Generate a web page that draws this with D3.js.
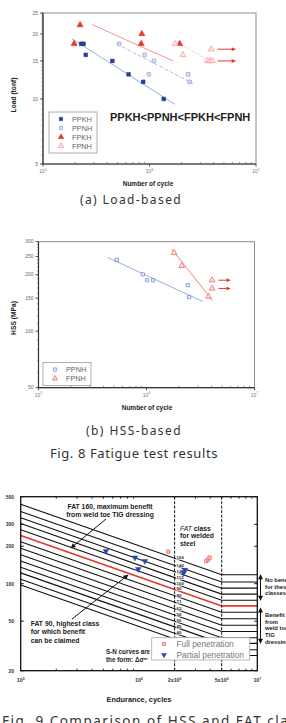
<!DOCTYPE html>
<html>
<head>
<meta charset="utf-8">
<script src="https://cdn.jsdelivr.net/npm/d3@7"></script>
<style>
body { margin: 0; background: #fff; }
svg { display: block; }
text { font-family: "Liberation Sans", Arial, sans-serif; }
.cap { font-family: "Noto Sans", sans-serif; fill: #333; }
</style>
</head>
<body>
<svg id="fig" width="286" height="723"></svg>
<script>
// ---------- Fig 8 (a) load-based : [cycles, load tonf]
const ppkh = [[2.28e5, 18], [2.4e5, 18], [2.52e5, 16], [4.48e5, 15], [6.36e5, 13], [8.73e5, 12], [1.36e6, 10]];
const ppnh = [[5.2e5, 18], [8.98e5, 16], [1.1e6, 15], [9.86e5, 13], [2.31e6, 13], [2.38e6, 12]];
const fpkh = [[1.96e5, 18], [2.23e5, 22], [8.48e5, 20], [8.36e5, 18], [1.92e6, 18]];
const fpnh = [[1.74e6, 18], [2.06e6, 16], [3.8e6, 17], [3.5e6, 15], [3.7e6, 15], [3.9e6, 15]];
const ppkhFit = [[1.87e5, 19], [1.73e6, 9.45]];
const ppnhFit = [[4.9e5, 18], [2.56e6, 11.8]];
const fpkhFit = [[2.89e5, 22.1], [1.66e6, 15]];
const fpnhFit = [[1.92e6, 18.1], [3.53e6, 15.1]];
const runoutLoad = [17, 15];
const runoutLoadCycles = [4.35e6, 6.4e6];
const loadTicks = [5, 10, 15, 20, 25];

// ---------- Fig 8 (b) HSS-based : [cycles, MPa]
const ppnhHss = [[5.31e5, 240], [9.25e5, 201], [1.01e6, 187], [1.15e6, 187], [2.41e6, 176], [2.48e6, 152]];
const fpnhHss = [[1.8e6, 262], [2.12e6, 223], [3.75e6, 153], [4.05e6, 187], [4.05e6, 169]];
const ppnhHssFit = [[4.39e5, 247], [3.32e6, 144]];
const fpnhHssFit = [[1.72e6, 273], [4.08e6, 146]];
const runoutHss = [187, 169];
const runoutHssCycles = [4.64e6, 5.95e6];
const hssTicks = [50, 100, 150, 200, 250, 300];

// ---------- Fig 9 : FAT classes and test points
const fatClasses = [160, 140, 125, 112, 100, 90, 80, 71, 63, 56, 50, 45, 40, 36];
const fullPen = [[1.77e6, 181], [3.7e6, 152], [3.85e6, 156], [3.95e6, 162]];
const partialPen = [[5.26e5, 183], [9.25e5, 162], [1.12e6, 152], [9.87e5, 131], [2.45e6, 129], [2.38e6, 122]];
const stressTicks = [20, 50, 100, 200, 300, 500];
const enduranceTicks = [[1e5, "10", "5"], [1e6, "10", "6"], [2e6, "2x10", "6"], [5e6, "5x10", "6"], [1e7, "10", "7"]];

const svg = d3.select("#fig");

const defs = svg.append("defs");
function arrowMarker(id, color, w, h) {
  defs.append("marker")
    .attr("id", id)
    .attr("viewBox", "0 0 10 10")
    .attr("refX", 9).attr("refY", 5)
    .attr("markerWidth", w).attr("markerHeight", h)
    .attr("orient", "auto-start-reverse")
    .attr("markerUnits", "userSpaceOnUse")
    .append("path")
    .attr("d", "M0,0 L10,5 L0,10 z")
    .attr("fill", color);
}
arrowMarker("redArrow", "#e8392b", 5, 4);
arrowMarker("blackArrow", "#111", 6, 5);

function supText(g, x, y, base, exp, size, fill, weight) {
  const t = g.append("text")
    .attr("x", x).attr("y", y)
    .attr("text-anchor", "middle")
    .attr("font-size", size)
    .attr("font-weight", weight || "normal")
    .attr("fill", fill);
  t.append("tspan").text(base);
  t.append("tspan").attr("dy", -size * 0.45).attr("font-size", size * 0.65).text(exp);
  return t;
}

function minorDecades(lo, hi) {
  const out = [];
  for (let d = lo; d < hi; d *= 10) {
    for (let k = 2; k <= 9; k++) out.push(k * d);
  }
  return out;
}

// origin-style panel for fig 8
function drawPanel(cfg) {
  const g = svg.append("g");
  const x = d3.scaleLog().domain([1e5, 1e7]).range([cfg.left, cfg.right]);
  const y = d3.scaleLog().domain(cfg.yDomain).range([cfg.bottom, cfg.top]);

  g.append("rect")
    .attr("x", cfg.left).attr("y", cfg.top)
    .attr("width", cfg.right - cfg.left).attr("height", cfg.bottom - cfg.top)
    .attr("fill", "none").attr("stroke", "#8c8c8c").attr("stroke-width", 1);

  // left axis
  g.append("line").attr("x1", cfg.left).attr("x2", cfg.left)
    .attr("y1", cfg.top).attr("y2", cfg.bottom).attr("stroke", "#333").attr("stroke-width", 1.2);
  g.selectAll(".ymin").data(cfg.yMinor).enter().append("line")
    .attr("x1", cfg.left - 1.5).attr("x2", cfg.left)
    .attr("y1", d => y(d)).attr("y2", d => y(d))
    .attr("stroke", "#555").attr("stroke-width", 0.6);
  g.selectAll(".ymaj").data(cfg.yTicks).enter().append("line")
    .attr("x1", cfg.left - 3).attr("x2", cfg.left)
    .attr("y1", d => y(d)).attr("y2", d => y(d))
    .attr("stroke", "#333").attr("stroke-width", 0.8);
  g.selectAll(".ylab").data(cfg.yTicks).enter().append("text")
    .attr("x", cfg.left - 5).attr("y", d => y(d) + 1.7)
    .attr("text-anchor", "end").attr("font-size", 5).attr("fill", "#666")
    .text(d => d);

  // bottom axis
  g.append("line").attr("x1", cfg.left).attr("x2", cfg.right)
    .attr("y1", cfg.bottom).attr("y2", cfg.bottom).attr("stroke", "#333").attr("stroke-width", 1.2);
  g.selectAll(".xmin").data(minorDecades(1e5, 1e7)).enter().append("line")
    .attr("x1", d => x(d)).attr("x2", d => x(d))
    .attr("y1", cfg.bottom).attr("y2", cfg.bottom - 2)
    .attr("stroke", "#555").attr("stroke-width", 0.6);
  [1e5, 1e6, 1e7].forEach((v, i) => {
    g.append("line").attr("x1", x(v)).attr("x2", x(v))
      .attr("y1", cfg.bottom).attr("y2", cfg.bottom + 2.5).attr("stroke", "#333").attr("stroke-width", 0.8);
    supText(g, x(v), cfg.bottom + 9, "10", String(5 + i), 5, "#777");
  });

  g.append("text")
    .attr("transform", `translate(${cfg.ylabelX},${cfg.ylabelY}) rotate(-90)`)
    .attr("text-anchor", "middle").attr("font-size", 6.7).attr("font-weight", "bold").attr("fill", "#222")
    .text(cfg.ylabel);
  g.append("text")
    .attr("x", cfg.xlabelX).attr("y", cfg.xlabelY)
    .attr("text-anchor", "middle").attr("font-size", 6.5).attr("font-weight", "bold").attr("fill", "#222")
    .text("Number of cycle");

  return { g, x, y };
}

function fitLine(p, pts, color, dash, w) {
  p.g.append("line")
    .attr("x1", p.x(pts[0][0])).attr("y1", p.y(pts[0][1]))
    .attr("x2", p.x(pts[1][0])).attr("y2", p.y(pts[1][1]))
    .attr("stroke", color).attr("stroke-width", w || 0.9)
    .attr("stroke-dasharray", dash || null);
}

function scatter(p, pts, type, size, fill, stroke, rot) {
  p.g.selectAll(null).data(pts).enter().append("path")
    .attr("d", d3.symbol().type(type).size(size))
    .attr("transform", d => `translate(${p.x(d[0])},${p.y(d[1])})` + (rot ? ` rotate(${rot})` : ""))
    .attr("fill", fill).attr("stroke", stroke).attr("stroke-width", 0.7);
}

function runouts(p, vals, cycles) {
  vals.forEach(v => {
    p.g.append("line")
      .attr("x1", p.x(cycles[0])).attr("x2", p.x(cycles[1]))
      .attr("y1", p.y(v)).attr("y2", p.y(v))
      .attr("stroke", "#e8392b").attr("stroke-width", 1)
      .attr("marker-end", "url(#redArrow)");
  });
}

function legend(p, x0, y0, w, items, fs) {
  p.g.append("rect").attr("x", x0).attr("y", y0).attr("width", w).attr("height", items.length * 9 + 5)
    .attr("fill", "#fff").attr("stroke", "#999").attr("stroke-width", 0.8);
  items.forEach((it, i) => {
    const cy = y0 + 7 + i * 9;
    p.g.append("path")
      .attr("d", d3.symbol().type(it.type).size(it.size))
      .attr("transform", `translate(${x0 + 12},${cy})`)
      .attr("fill", it.fill).attr("stroke", it.stroke).attr("stroke-width", 0.7);
    p.g.append("text").attr("x", x0 + 23).attr("y", cy + 2.6)
      .attr("font-size", fs).attr("fill", "#666").text(it.label);
  });
}

// ---------- (a)
const pa = drawPanel({
  left: 43, right: 256, top: 13, bottom: 164,
  yDomain: [5, 25], yTicks: loadTicks, yMinor: d3.range(5, 25.01, 0.5),
  ylabel: "Load (tonf)", ylabelX: 16, ylabelY: 95,
  xlabelX: 148, xlabelY: 186
});
fitLine(pa, ppkhFit, "#8fa2dc", null, 0.9);
fitLine(pa, ppnhFit, "#a9b6d8", "4,2", 0.9);
fitLine(pa, fpkhFit, "#f28a84", null, 0.9);
fitLine(pa, fpnhFit, "#f6a9a4", "1.5,1.5", 0.9);
scatter(pa, ppkh, d3.symbolSquare, 13, "#233f9a", "#233f9a");
scatter(pa, ppnh, d3.symbolSquare, 13, "#d9e0f3", "#8fa4dc");
scatter(pa, fpkh, d3.symbolTriangle, 16, "#e8392b", "#e8392b");
scatter(pa, fpnh, d3.symbolTriangle, 16, "#fde3e1", "#f39a94");
runouts(pa, runoutLoad, runoutLoadCycles);
legend(pa, 49, 112, 48, [
  { label: "PPKH", type: d3.symbolSquare, size: 10, fill: "#233f9a", stroke: "#233f9a" },
  { label: "PPNH", type: d3.symbolSquare, size: 10, fill: "#d9e0f3", stroke: "#8fa4dc" },
  { label: "FPKH", type: d3.symbolTriangle, size: 12, fill: "#e8392b", stroke: "#e8392b" },
  { label: "FPNH", type: d3.symbolTriangle, size: 12, fill: "#fde3e1", stroke: "#f39a94" }
], 7.3);
pa.g.append("text").attr("x", 110).attr("y", 121)
  .attr("font-size", 11).attr("font-weight", "bold").attr("fill", "#222")
  .text("PPKH<PPNH<FPKH<FPNH");

svg.append("text").attr("class", "cap").attr("x", 131).attr("y", 204)
  .attr("text-anchor", "middle").attr("font-size", 12).attr("letter-spacing", 1.4)
  .text("(a) Load-based");

// ---------- (b)
const pb = drawPanel({
  left: 38.5, right: 254.5, top: 241.7, bottom: 387.7,
  yDomain: [50, 300], yTicks: hssTicks, yMinor: d3.range(50, 300.1, 10),
  ylabel: "HSS (MPa)", ylabelX: 16, ylabelY: 318,
  xlabelX: 147, xlabelY: 410
});
fitLine(pb, ppnhHssFit, "#8f9fdb", null, 0.9);
fitLine(pb, fpnhHssFit, "#f06e66", null, 0.9);
scatter(pb, ppnhHss, d3.symbolSquare, 11, "#e4e9f7", "#7487c9");
scatter(pb, fpnhHss, d3.symbolTriangle, 14, "#fde3e1", "#ea5a52");
runouts(pb, runoutHss, runoutHssCycles);
legend(pb, 43, 362.5, 48, [
  { label: "PPNH", type: d3.symbolSquare, size: 10, fill: "#e4e9f7", stroke: "#7487c9" },
  { label: "FPNH", type: d3.symbolTriangle, size: 12, fill: "#fde3e1", stroke: "#ea5a52" }
], 7.3);

svg.append("text").attr("class", "cap").attr("x", 134).attr("y", 435)
  .attr("text-anchor", "middle").attr("font-size", 12).attr("letter-spacing", 1.4)
  .text("(b) HSS-based");
svg.append("text").attr("class", "cap").attr("x", 134).attr("y", 458)
  .attr("text-anchor", "middle").attr("font-size", 13).attr("letter-spacing", 0.6)
  .text("Fig. 8 Fatigue test results");

// ---------- Fig 9
const L = 20.7, R = 257.3, T = 496.7, B = 670.7;
const x9 = d3.scaleLog().domain([1e5, 1e7]).range([L, R]);
const y9 = d3.scaleLog().domain([20, 500]).range([B, T]);
const g9 = svg.append("g");
const fatAt = (fat, n) => fat * Math.pow(2e6 / n, 1 / 3);
const kneeN = 5e6;

g9.selectAll(".fat").data(fatClasses).enter().append("path")
  .attr("d", d => d3.line()([
    [x9(1e5), y9(fatAt(d, 1e5))],
    [x9(kneeN), y9(fatAt(d, kneeN))],
    [x9(1e7), y9(fatAt(d, kneeN))]
  ]))
  .attr("fill", "none")
  .attr("stroke", d => d === 90 ? "#e2372d" : "#111")
  .attr("stroke-width", d => d === 90 ? 1.6 : 1.1);

// vertical dashed lines
[2e6, 5e6].forEach(v => {
  g9.append("line").attr("x1", x9(v)).attr("x2", x9(v)).attr("y1", T).attr("y2", B)
    .attr("stroke", "#111").attr("stroke-width", 1).attr("stroke-dasharray", "3,1.5");
});

// class labels on the 2x10^6 line
g9.selectAll(".fatlab").data(fatClasses).enter().append("text")
  .attr("x", x9(2e6) + 2).attr("y", d => y9(d) + 1)
  .attr("font-size", 4.3).attr("font-weight", "bold").attr("fill", "#222")
  .attr("stroke", "#fff").attr("stroke-width", 1.2).attr("paint-order", "stroke")
  .text(d => d);

// frame and ticks
g9.append("rect").attr("x", L).attr("y", T).attr("width", R - L).attr("height", B - T)
  .attr("fill", "none").attr("stroke", "#111").attr("stroke-width", 1.3);
g9.selectAll(".ytk").data(stressTicks).enter().append("line")
  .attr("x1", L).attr("x2", L + 3).attr("y1", d => y9(d)).attr("y2", d => y9(d))
  .attr("stroke", "#111").attr("stroke-width", 1);
g9.selectAll(".ytkr").data(stressTicks).enter().append("line")
  .attr("x1", R - 3).attr("x2", R).attr("y1", d => y9(d)).attr("y2", d => y9(d))
  .attr("stroke", "#111").attr("stroke-width", 1);
g9.selectAll(".ylab9").data(stressTicks).enter().append("text")
  .attr("x", 14).attr("y", d => y9(d) + 1.8)
  .attr("text-anchor", "end").attr("font-size", 5).attr("font-weight", "bold").attr("fill", "#333")
  .text(d => d);
const minor9 = minorDecades(1e5, 1e7);
g9.selectAll(".xtkb").data(minor9).enter().append("line")
  .attr("x1", d => x9(d)).attr("x2", d => x9(d)).attr("y1", B).attr("y2", B - 2)
  .attr("stroke", "#111").attr("stroke-width", 0.9);
g9.selectAll(".xtkt").data(minor9).enter().append("line")
  .attr("x1", d => x9(d)).attr("x2", d => x9(d)).attr("y1", T).attr("y2", T + 2)
  .attr("stroke", "#111").attr("stroke-width", 0.9);
enduranceTicks.forEach(t => supText(g9, x9(t[0]), 682, t[1], t[2], 5.3, "#333", "bold"));
g9.append("text").attr("x", 139).attr("y", 702).attr("text-anchor", "middle")
  .attr("font-size", 7.4).attr("font-weight", "bold").attr("fill", "#222")
  .text("Endurance, cycles");

// test points
g9.selectAll(".full").data(fullPen).enter().append("path")
  .attr("d", d3.symbol().type(d3.symbolSquare).size(11))
  .attr("transform", d => `translate(${x9(d[0])},${y9(d[1])})`)
  .attr("fill", "#f8c4c1").attr("stroke", "#ec5a55").attr("stroke-width", 0.7);
g9.selectAll(".part").data(partialPen).enter().append("path")
  .attr("d", d3.symbol().type(d3.symbolTriangle).size(14))
  .attr("transform", d => `translate(${x9(d[0])},${y9(d[1])}) rotate(180)`)
  .attr("fill", "#2747b3").attr("stroke", "#2747b3").attr("stroke-width", 0.5);

// annotations
function lines(x, y0, dy, arr, fs, anchor) {
  arr.forEach((s, i) => {
    g9.append("text").attr("x", x).attr("y", y0 + i * dy)
      .attr("text-anchor", anchor || "start")
      .attr("font-size", fs).attr("font-weight", "bold").attr("fill", "#222").text(s);
  });
}
lines(110, 508.5, 8, ["FAT 160, maximum benefit", "from weld toe TIG dressing"], 6.8, "middle");
g9.append("line").attr("x1", 106).attr("y1", 519).attr("x2", 71).attr("y2", 548)
  .attr("stroke", "#111").attr("stroke-width", 1).attr("marker-end", "url(#blackArrow)");

const fc = g9.append("text").attr("x", 180).attr("y", 530.5).attr("font-size", 6.8).attr("fill", "#222");
fc.append("tspan").attr("font-style", "italic").text("FAT");
fc.append("tspan").attr("font-weight", "bold").text(" class");
lines(180, 538, 7.5, ["for welded", "steel"], 6.8);

lines(30.7, 626, 8.3, ["FAT 90, highest class", "for which benefit", "can be claimed"], 6.8);
g9.append("line").attr("x1", 72).attr("y1", 619).attr("x2", 128).attr("y2", 575)
  .attr("stroke", "#111").attr("stroke-width", 1).attr("marker-end", "url(#blackArrow)");

// partly hidden behind the legend in the original
lines(106, 654, 8, ["S-N curves are", "the form: \u0394\u03c3\u1d50"], 6.3);

// right hand brackets
function bracket(v1, v2) {
  g9.append("line").attr("x1", 260.5).attr("x2", 260.5)
    .attr("y1", y9(v1)).attr("y2", y9(v2))
    .attr("stroke", "#111").attr("stroke-width", 1)
    .attr("marker-start", "url(#blackArrow)").attr("marker-end", "url(#blackArrow)");
}
bracket(fatAt(160, kneeN), fatAt(100, kneeN));
bracket(fatAt(90, kneeN) * 0.96, fatAt(45, kneeN));
lines(265, 582, 6.7, ["No benefit", "for these", "classes"], 5.8);
lines(265, 617, 6.7, ["Benefit", "from", "weld toe", "TIG", "dressing"], 5.8);

// legend
g9.append("rect").attr("x", 151.7).attr("y", 637.7).attr("width", 98).attr("height", 22.3)
  .attr("fill", "#fff").attr("stroke", "#aaa").attr("stroke-width", 0.8);
g9.append("path").attr("d", d3.symbol().type(d3.symbolSquare).size(9))
  .attr("transform", "translate(164,644)")
  .attr("fill", "#f8c4c1").attr("stroke", "#ec5a55").attr("stroke-width", 0.7);
g9.append("path").attr("d", d3.symbol().type(d3.symbolTriangle).size(14))
  .attr("transform", "translate(164,655) rotate(180)")
  .attr("fill", "#2747b3");
g9.append("text").attr("x", 176.5).attr("y", 647).attr("font-size", 8.3).attr("fill", "#777").text("Full penetration");
g9.append("text").attr("x", 176.5).attr("y", 657.5).attr("font-size", 8.3).attr("fill", "#777").text("Partial penetration");

svg.append("text").attr("class", "cap").attr("x", 2).attr("y", 726)
  .attr("font-size", 13.5).attr("letter-spacing", 1.5)
  .text("Fig. 9 Comparison of HSS and FAT class");
</script>
</body>
</html>
